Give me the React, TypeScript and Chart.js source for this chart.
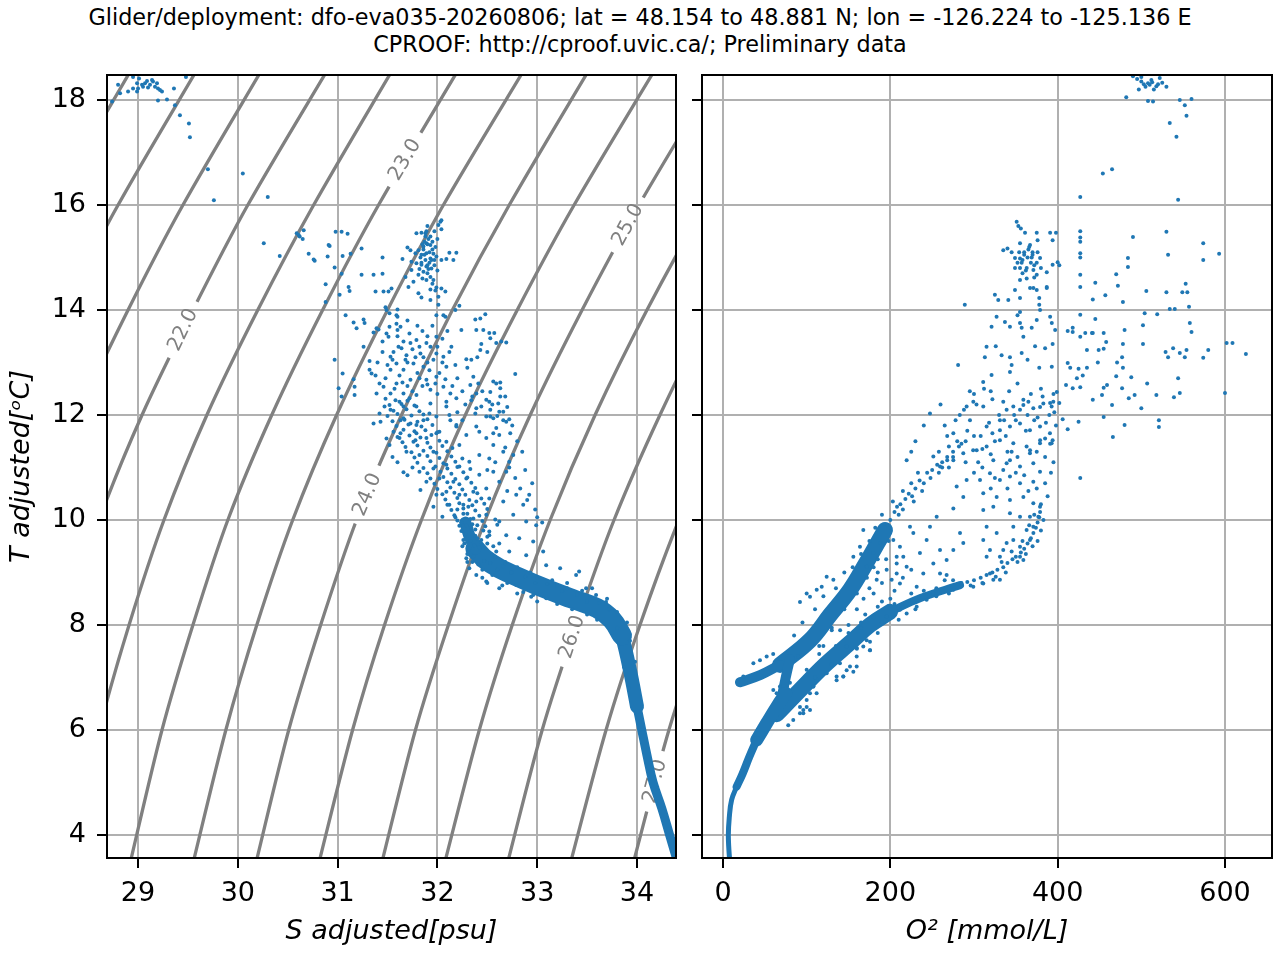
import { useEffect, useRef } from 'react';
import { Chart, registerables } from 'chart.js';

Chart.register(...registerables);

const FONT = 'DejaVu Sans';
const BLUE = '#1f77b4';
const GREY = '#808080';

// tick values
const sTicks = [29, 30, 31, 32, 33, 34];
const tTicks = [4, 6, 8, 10, 12, 14, 16, 18];
const oTicks = [0, 200, 400, 600];

// isopycnals: salinity of each sigma level at these temperatures
const isoTemps = [3.3, 6, 8, 10, 12, 14, 16, 18.8];
const isoLevels = ['20.5', '21.0', '21.5', '22.0', '22.5', '23.0', '23.5', '24.0', '24.5', '25.0', '25.5', '26.0', '26.5', '27.0'];
const isoSalinity = [
  [25.75, 26.07, 26.35, 26.68, 27.1, 27.6, 28.15, 29.0],
  [26.38, 26.7, 26.99, 27.32, 27.75, 28.25, 28.8, 29.66],
  [27.01, 27.34, 27.63, 27.97, 28.4, 28.9, 29.45, 30.31],
  [27.64, 27.97, 28.27, 28.61, 29.04, 29.55, 30.1, 30.97],
  [28.27, 28.61, 28.91, 29.26, 29.69, 30.2, 30.76, 31.62],
  [28.9, 29.24, 29.55, 29.9, 30.34, 30.85, 31.41, 32.28],
  [29.53, 29.88, 30.19, 30.55, 30.99, 31.5, 32.06, 32.94],
  [30.16, 30.51, 30.83, 31.19, 31.64, 32.15, 32.72, 33.59],
  [30.79, 31.15, 31.47, 31.84, 32.28, 32.8, 33.37, 34.25],
  [31.42, 31.78, 32.11, 32.48, 32.93, 33.45, 34.02, 34.9],
  [32.05, 32.42, 32.75, 33.13, 33.58, 34.1, 34.68, 35.56],
  [32.68, 33.05, 33.39, 33.77, 34.23, 34.75, 35.33, 36.22],
  [33.31, 33.69, 34.03, 34.42, 34.88, 35.4, 35.98, 36.87],
  [33.94, 34.32, 34.67, 35.06, 35.52, 36.05, 36.63, 37.53],
];
// temperature where each labelled isopycnal carries its label
const isoLabelTemp: Record<string, number> = {
  '22.0': 13.62,
  '23.0': 16.86,
  '24.0': 10.48,
  '25.0': 15.62,
  '26.0': 7.77,
  '27.0': 5.02,
};

// T-S samples [S, T]
const tsPoints: [number, number][] = [
  [28.8, 18.29], [28.74, 17.97], [28.82, 18.13], [28.9, 18.16], [28.95, 18.44], [29.01, 18.41], [28.99, 18.32], [29.04, 18.29],
  [29.07, 18.32], [29.12, 18.29], [29.15, 18.35], [29.19, 18.32], [29.2, 18.22], [29.22, 18.19], [29.17, 18.25], [29.1, 18.24],
  [29.05, 18.25], [29.0, 18.22], [28.95, 18.22], [28.99, 18.16], [29.14, 18.38], [29.09, 18.36], [29.2, 17.99], [29.29, 18.01],
  [29.36, 18.22], [29.37, 17.9], [29.42, 17.71], [29.51, 17.55], [29.52, 17.29], [29.48, 18.44], [29.24, 18.16],
  [29.7, 16.68], [30.05, 16.6], [29.76, 16.09], [30.3, 16.15],
  [30.59, 15.46], [30.62, 15.4], [30.66, 15.52], [30.61, 15.43], [30.65, 15.35], [30.26, 15.27], [30.42, 15.03], [30.71, 15.07],
  [30.76, 14.96], [30.77, 14.94], [30.98, 15.49], [31.04, 15.49], [31.1, 15.45], [30.92, 15.22], [30.9, 15.02], [31.05, 15.03],
  [31.13, 15.07], [31.24, 15.17], [30.97, 14.81], [31.04, 14.69], [30.88, 14.49], [30.88, 14.15], [31.11, 14.44], [31.12, 14.36],
  [31.02, 14.29], [31.24, 14.67], [31.36, 14.67], [31.45, 14.69], [31.45, 15.0], [31.38, 14.35], [31.46, 14.35], [31.51, 14.35],
  [31.54, 14.41], [31.48, 14.05], [31.08, 13.9], [31.16, 13.76], [31.26, 13.82], [31.27, 13.75], [31.19, 13.65], [31.6, 14.01],
  [31.6, 13.87], [31.52, 13.94], [31.59, 13.74], [31.39, 13.65],
  [30.97, 13.05], [31.05, 12.79], [31.16, 12.68], [31.17, 12.54], [31.01, 12.51], [31.04, 12.35], [31.17, 12.38], [31.26, 13.3],
  [31.36, 13.57], [31.41, 13.63], [31.32, 13.03], [31.32, 12.86], [31.34, 12.79], [30.91, 15.24], [31.65, 14.97], [31.68, 14.63],
  [32.03, 15.68], [32.04, 15.71], [32.01, 15.62], [32.04, 15.54], [31.79, 15.46], [31.84, 15.47], [31.88, 15.46], [31.89, 15.27],
  [31.93, 15.24], [31.86, 15.21], [31.7, 15.19], [31.73, 15.14], [31.78, 15.08], [31.81, 15.14], [31.84, 15.05], [31.89, 15.08],
  [31.93, 14.98], [31.96, 15.07], [31.99, 15.02], [32.04, 14.95], [32.12, 15.09], [32.19, 15.09], [32.09, 14.97], [32.16, 14.95],
  [31.74, 14.92], [31.79, 14.89], [31.84, 14.86], [31.89, 14.83], [31.94, 14.79], [31.74, 14.76], [31.86, 14.73], [31.93, 14.63],
  [31.96, 14.57], [31.81, 14.67], [31.89, 14.57], [31.99, 14.43], [31.98, 14.37], [32.04, 14.41], [31.93, 14.39], [32.08, 14.35],
  [32.01, 14.25], [31.76, 14.54], [31.71, 14.44], [31.81, 14.32], [31.84, 14.24], [31.93, 14.19], [32.01, 14.1], [32.06, 13.9],
  [31.99, 13.9], [32.08, 13.87], [32.22, 14.08], [32.18, 14.0], [32.38, 13.82], [32.43, 13.84], [32.48, 13.92], [32.39, 13.62],
  [32.46, 13.62], [32.52, 13.56], [32.57, 13.56], [32.53, 13.46], [32.59, 13.37], [32.64, 13.4], [32.44, 13.35], [32.43, 13.24],
  [32.69, 13.38], [32.24, 13.62], [32.14, 13.3], [32.34, 13.05], [32.29, 13.06], [32.18, 12.95], [32.78, 12.78], [32.63, 12.62],
  [32.56, 12.64], [32.63, 12.51], [32.53, 12.44], [32.63, 12.35], [32.68, 12.35], [32.61, 12.22], [32.66, 12.06], [32.72, 11.92],
  [32.56, 11.94], [32.53, 12.1], [32.49, 11.97], [32.41, 12.6], [32.33, 12.57], [32.39, 12.41], [32.34, 12.28], [32.44, 12.16],
  [32.38, 12.03],
  [31.91, 15.35], [31.87, 15.3], [31.95, 15.15], [31.98, 15.2], [31.83, 15.0], [31.88, 14.95], [31.92, 14.9], [31.97, 14.85],
  [32.0, 14.75], [31.9, 14.7], [31.85, 14.6], [31.95, 14.5], [31.9, 15.6], [31.97, 15.5], [32.0, 15.35], [31.82, 14.78],
  [31.88, 15.4], [31.9, 15.25], [31.92, 15.1], [31.86, 15.15], [31.94, 14.95], [31.9, 14.85], [31.87, 15.05], [31.95, 15.3],
  [31.84, 14.9], [31.97, 14.95], [31.91, 14.78], [31.85, 15.25], [31.93, 15.4], [31.89, 15.5],
  [31.49, 14.0], [31.59, 13.9], [31.52, 13.68], [31.49, 13.55], [31.51, 13.49], [31.63, 13.68], [31.61, 13.3], [31.64, 13.27],
  [31.73, 13.37], [31.79, 13.43], [31.89, 13.37], [31.99, 13.49], [31.93, 13.3], [31.99, 13.17], [32.06, 13.11], [31.83, 13.17],
  [31.69, 13.14], [31.53, 13.11], [31.59, 12.98], [31.53, 12.86], [31.66, 12.86], [31.76, 12.98], [31.86, 12.92], [31.96, 13.05],
  [32.09, 12.92], [31.99, 12.73], [31.89, 12.67], [31.73, 12.67], [31.59, 12.6], [31.46, 12.54], [31.39, 12.41], [31.53, 12.41],
  [31.66, 12.41], [31.79, 12.38], [31.93, 12.48], [32.06, 12.54], [32.13, 12.41], [32.09, 12.16], [31.93, 12.22], [31.79, 12.16],
  [31.66, 12.16], [31.53, 12.1], [31.42, 12.03], [31.36, 11.84], [31.63, 11.9], [31.73, 11.84], [31.86, 11.9], [31.99, 11.97],
  [32.13, 11.9], [32.19, 11.78], [31.63, 11.65], [31.49, 11.55], [31.99, 11.65], [31.79, 11.65], [31.43, 11.87], [32.36, 12.73],
  [32.59, 12.6], [32.53, 11.97], [32.66, 11.9], [32.39, 11.78], [32.56, 11.65], [32.73, 11.65], [32.49, 12.29],
  [31.45, 13.2], [31.55, 13.05], [31.7, 13.0], [31.8, 12.8], [31.92, 12.85], [32.02, 12.8], [31.62, 12.75], [31.48, 12.7],
  [31.7, 12.55], [31.85, 12.55], [31.98, 12.6], [31.75, 13.25], [31.86, 13.1], [32.0, 13.3], [31.6, 13.5], [31.72, 13.55],
  [31.85, 13.6], [31.95, 13.7], [32.05, 13.45], [32.12, 13.2], [32.2, 12.7], [32.25, 12.45], [32.28, 12.2], [32.2, 12.05],
  [32.25, 11.9],
  [31.42, 12.6], [31.5, 12.95], [31.57, 12.5], [31.65, 12.62], [31.75, 12.45], [31.82, 12.7], [31.9, 12.58], [32.0, 12.4],
  [32.08, 12.68], [32.15, 12.55], [31.68, 13.05], [31.78, 13.1], [31.9, 13.0], [32.05, 13.0], [31.56, 13.2], [31.66, 13.4],
  [31.82, 13.3], [31.9, 13.5], [32.1, 13.6], [31.7, 13.8], [31.8, 13.7], [31.6, 13.62], [31.45, 13.4], [31.4, 13.0],
  [31.38, 12.75], [32.3, 12.9], [32.4, 13.1], [32.5, 13.2], [32.35, 12.35], [32.45, 12.45],
  [31.47, 12.16], [31.62, 12.25], [31.72, 12.32], [31.66, 11.94], [31.79, 11.81], [31.92, 12.03], [32.09, 12.25], [32.19, 12.32],
  [32.12, 12.0], [32.02, 11.68], [31.89, 11.56], [31.76, 11.49], [31.62, 11.56], [31.52, 11.43], [31.69, 11.3], [31.82, 11.24],
  [31.96, 11.3], [32.09, 11.49], [32.22, 11.43], [32.29, 11.62], [32.19, 11.81], [32.39, 12.13], [32.52, 12.25], [32.62, 12.06],
  [32.69, 11.87], [32.59, 11.75], [32.49, 11.56], [32.42, 11.68], [32.56, 11.43], [32.66, 11.3], [32.72, 11.11], [32.76, 11.24],
  [32.52, 11.17], [32.42, 11.24], [32.32, 11.11], [32.22, 11.02], [32.09, 11.05], [31.96, 10.98], [31.82, 10.92], [31.89, 10.73],
  [32.02, 10.79], [32.16, 10.73], [32.29, 10.79], [32.42, 10.86], [32.56, 10.92], [32.69, 10.92], [32.62, 10.73], [32.49, 10.6],
  [32.36, 10.54], [32.22, 10.48], [32.09, 10.54], [31.99, 10.48], [32.12, 10.29], [32.26, 10.29], [32.39, 10.35], [32.52, 10.41],
  [32.66, 10.35], [32.79, 10.48], [32.86, 10.29], [32.92, 10.48], [32.76, 10.1], [32.89, 9.97], [32.99, 9.9], [32.62, 9.97],
  [32.49, 10.1], [32.36, 10.03], [32.52, 9.71], [32.69, 9.71], [32.82, 9.65], [32.96, 9.59], [33.06, 9.4], [32.89, 9.33],
  [32.72, 9.4], [32.59, 9.4], [33.09, 9.14], [33.23, 9.08], [33.39, 8.95], [33.42, 9.02], [32.29, 9.27], [32.32, 9.08],
  [32.39, 8.95], [32.49, 8.83], [32.62, 8.7], [32.79, 8.76], [32.86, 8.63], [32.96, 8.57], [33.09, 8.51], [33.49, 8.7],
  [33.59, 8.57], [33.69, 8.44], [32.94, 8.54],
  [31.66, 10.91], [31.83, 10.57], [31.96, 10.25], [32.05, 10.06], [32.26, 9.62], [31.55, 11.2], [31.6, 11.1], [31.75, 11.0],
  [31.7, 10.85], [33.2, 8.75], [33.3, 8.8], [33.45, 8.65], [33.55, 8.7], [33.7, 8.5], [33.87, 7.2], [33.98, 7.3], [33.92, 6.8],
  [31.48, 12.31], [31.58, 12.28], [31.7, 12.27], [31.52, 12.19], [31.64, 12.21], [31.77, 12.18], [31.56, 12.08], [31.69, 12.11],
  [31.82, 12.07], [31.5, 11.98], [31.6, 12.02], [31.74, 11.99], [31.86, 12.01], [31.55, 11.88], [31.67, 11.91], [31.8, 11.87],
  [31.9, 11.92], [31.59, 11.79], [31.71, 11.82], [31.84, 11.78], [31.95, 11.81], [31.56, 11.68], [31.66, 11.72], [31.77, 11.69],
  [31.88, 11.71], [32.0, 11.67], [31.6, 11.58], [31.72, 11.61], [31.83, 11.57], [31.94, 11.62], [31.65, 11.48], [31.78, 11.52],
  [31.9, 11.47], [32.02, 11.51], [31.68, 11.39], [31.8, 11.42], [31.93, 11.38], [32.05, 11.41], [32.15, 11.37], [31.74, 11.29],
  [31.86, 11.32], [31.99, 11.28], [32.1, 11.31], [31.77, 11.19], [31.9, 11.22], [32.02, 11.18], [32.14, 11.21], [32.25, 11.17],
  [31.8, 11.09], [31.93, 11.12], [32.06, 11.08], [32.18, 11.11], [31.86, 10.99], [31.98, 11.02], [32.1, 10.98], [32.2, 11.01],
  [32.33, 10.97], [31.9, 10.89], [32.03, 10.92], [32.14, 10.88], [32.26, 10.91], [31.93, 10.79], [32.06, 10.82], [32.18, 10.78],
  [32.3, 10.81], [31.97, 10.69], [32.1, 10.72], [32.22, 10.68], [32.34, 10.71], [32.0, 10.59], [32.13, 10.62], [32.25, 10.58],
  [32.38, 10.61], [32.05, 10.49], [32.17, 10.52], [32.28, 10.48], [32.4, 10.51], [32.08, 10.39], [32.2, 10.42], [32.32, 10.38],
  [32.44, 10.41], [32.1, 10.29], [32.22, 10.32], [32.35, 10.28], [32.47, 10.31], [32.14, 10.19], [32.26, 10.22], [32.38, 10.18],
  [32.5, 10.21], [32.17, 10.09], [32.3, 10.12], [32.42, 10.08], [32.2, 9.99], [32.33, 10.02], [32.45, 9.98], [32.58, 10.01],
  [32.22, 9.89], [32.35, 9.92], [32.48, 9.88], [32.6, 9.91], [32.24, 9.79], [32.38, 9.82], [32.52, 9.78],
  [32.55, 12.2], [32.7, 12.15], [32.6, 11.98], [32.75, 11.8], [32.62, 11.62], [32.8, 11.5], [32.68, 11.38], [32.85, 11.3],
  [32.72, 11.0], [32.88, 10.95], [32.78, 10.8], [32.95, 10.7], [32.83, 10.6], [32.7, 10.55], [32.9, 10.38], [32.98, 10.2],
  [33.0, 10.05], [33.05, 9.95], [32.58, 11.1], [32.5, 10.95],
  [32.25, 9.5], [32.3, 9.35], [32.35, 9.2], [32.45, 9.05], [32.55, 8.95], [32.7, 8.8], [32.4, 9.65], [32.5, 9.55],
  [32.58, 9.3], [32.68, 9.2], [32.8, 9.1], [32.93, 9.0], [33.0, 8.9], [33.15, 8.85], [33.3, 8.7], [33.2, 8.4],
  [33.35, 8.3], [33.5, 8.2], [33.6, 8.1], [33.0, 8.45], [32.8, 8.6], [32.65, 8.75], [32.5, 8.8], [32.45, 8.9],
  [32.2, 10.2], [32.26, 10.12], [32.31, 10.25], [32.18, 10.05], [32.24, 9.95], [32.29, 9.9], [32.34, 9.85], [32.4, 9.9],
  [32.46, 9.8], [32.28, 9.72], [32.33, 9.6], [32.38, 9.7], [32.44, 9.62], [32.5, 9.68], [32.27, 9.55], [32.32, 9.45],
  [32.37, 9.52], [32.42, 9.48], [32.56, 9.5], [32.62, 9.55], [32.3, 9.2], [32.36, 9.3], [32.41, 9.15], [32.47, 9.22],
  [32.53, 9.18], [32.6, 9.05], [32.66, 9.12], [32.74, 9.0], [32.88, 8.92], [32.98, 8.8], [33.1, 8.78], [33.25, 8.65],
  [33.4, 8.58], [33.5, 8.45], [33.62, 8.42], [33.72, 8.3], [33.8, 8.25], [33.9, 8.05], [33.93, 7.7], [33.8, 7.95],
];

// dense parts of the T-S curve [S, T]
const tsBandStart: [number, number][] = [[32.28, 9.95], [32.32, 9.7], [32.38, 9.45]];
const tsBandUpper: [number, number][] = [[32.38, 9.45], [32.48, 9.25], [32.62, 9.08], [32.85, 8.88], [33.1, 8.68], [33.35, 8.5], [33.6, 8.32], [33.75, 8.1], [33.85, 7.8]];
const tsBandMid: [number, number][] = [[33.85, 7.8], [33.9, 7.4], [33.95, 6.95], [34.0, 6.45]];
const tsBandLow: [number, number][] = [[34.0, 6.45], [34.05, 5.98], [34.1, 5.52], [34.16, 5.01], [34.25, 4.5], [34.33, 3.98], [34.42, 3.4]];

// oxygen samples [O2, T]
const oxPoints: [number, number][] = [
  [510, 18.29], [500, 18.35], [520, 18.3], [515, 18.2], [505, 18.25], [525, 18.33], [495, 18.4], [530, 18.25], [512, 18.38],
  [490, 18.45], [482, 18.05], [508, 17.98], [514, 17.97], [534, 17.56], [542, 17.3], [554, 17.7], [546, 18.0], [560, 18.02],
  [552, 17.9], [500, 18.44], [497, 18.2], [522, 18.42], [508, 18.32], [518, 18.26], [513, 18.34], [503, 18.3],
  [454, 16.6], [465, 16.68], [427, 16.15], [544, 16.1],
  [427, 15.5], [427, 15.38], [427, 15.3], [427, 15.08], [427, 15.0], [427, 14.67], [427, 14.44],
  [490, 15.39], [530, 15.49], [532, 15.05], [574, 15.27], [574, 14.95], [593, 15.07], [484, 14.99], [484, 14.82], [470, 14.68],
  [445, 14.52], [472, 14.46], [442, 14.2], [457, 14.28], [478, 14.15], [506, 14.36], [530, 14.34], [553, 14.5], [549, 14.34],
  [555, 14.34], [534, 14.02], [540, 14.02], [557, 14.06], [504, 13.94], [519, 13.92], [558, 13.75], [560, 13.58], [502, 13.71],
  [502, 13.35], [480, 13.62], [478, 13.35], [445, 13.83], [442, 13.56], [455, 13.56], [435, 13.24], [449, 13.24], [455, 13.26],
  [458, 13.39], [427, 13.49], [418, 13.58], [412, 13.6], [427, 13.91], [418, 13.66], [433, 13.56], [441, 13.56], [602, 13.37],
  [609, 13.37], [625, 13.16], [580, 13.24], [574, 13.09], [600, 12.42], [546, 13.18], [538, 13.27], [554, 13.24], [552, 13.1],
  [544, 12.7], [546, 12.42], [539, 12.34], [532, 13.1], [529, 13.2], [507, 12.6], [518, 12.38], [492, 12.38], [485, 12.32],
  [500, 12.13], [477, 12.51], [478, 12.9], [477, 13.1], [471, 13.0], [488, 12.72], [470, 12.74], [459, 12.57], [455, 12.52],
  [453, 12.38], [442, 12.29], [465, 12.19], [455, 11.96], [480, 11.81], [466, 11.58], [521, 11.9], [521, 11.77], [435, 12.9],
  [448, 13.0], [423, 12.7], [427, 12.53], [430, 12.75], [418, 12.51], [410, 12.57], [412, 12.99], [415, 12.9], [425, 12.88],
  [399, 12.44], [402, 12.23], [406, 11.92], [412, 11.73], [425, 11.87], [427, 10.8],
  [268, 11.14], [299, 11.33], [331, 11.71], [339, 12.1], [359, 12.29], [379, 12.15], [391, 12.23], [281, 12.95], [315, 13.3],
  [326, 13.31], [313, 13.1], [321, 12.76], [311, 12.63], [333, 13.14], [343, 13.1], [357, 13.18], [343, 12.82], [345, 12.95],
  [364, 13.05], [378, 12.9], [393, 12.92], [373, 13.31], [385, 13.27], [394, 13.35], [357, 13.66], [359, 13.49], [355, 13.75],
  [369, 13.66], [375, 13.81], [393, 13.75], [397, 13.62], [343, 13.68], [337, 13.77], [321, 13.68], [327, 13.87], [355, 13.96],
  [352, 13.9], [379, 14.0], [378, 14.1], [391, 13.87], [289, 14.1], [325, 14.29], [341, 14.19], [355, 14.23], [378, 14.23],
  [387, 14.42], [371, 14.42], [329, 14.19],
  [351, 15.68], [353, 15.6], [356, 15.55], [361, 15.47], [375, 15.47], [391, 15.47], [398, 15.47], [394, 15.33], [355, 15.27],
  [367, 15.24], [376, 15.33], [335, 15.14], [340, 15.17], [345, 15.1], [349, 14.99], [355, 14.98], [357, 14.9], [369, 15.0],
  [375, 14.9], [379, 14.99], [363, 14.8], [371, 14.76], [375, 14.67], [349, 14.8], [387, 14.72], [355, 14.57], [367, 14.42],
  [375, 14.38], [387, 14.44], [349, 14.38], [400, 14.91], [402, 14.85], [394, 14.86], [355, 14.8], [363, 14.6], [372, 14.62],
  [360, 15.05], [365, 15.15], [370, 15.1], [358, 14.7], [380, 14.8],
  [360, 15.1], [364, 15.0], [368, 14.9], [358, 14.95], [366, 15.2], [372, 14.85], [362, 14.75], [354, 15.1], [370, 15.05],
  [376, 15.1], [352, 14.9],
  [262, 11.0], [275, 11.2], [285, 11.45], [290, 11.1], [300, 11.6], [310, 11.35], [318, 11.85], [325, 11.5], [330, 12.0],
  [338, 11.6], [345, 11.3], [350, 11.9], [355, 12.1], [362, 11.7], [368, 12.4], [372, 11.9], [380, 12.5], [385, 11.55],
  [390, 12.0], [398, 11.8], [303, 12.2], [295, 12.45], [278, 11.9], [268, 11.6], [288, 12.1], [312, 12.5], [322, 12.3],
  [342, 12.45], [352, 12.6], [365, 12.25], [382, 12.35], [395, 12.4], [394, 11.52], [391, 11.45], [379, 11.52], [367, 11.33],
  [343, 11.14],
  [247.4, 12.03], [219.5, 11.14], [251.4, 11.21], [275.3, 11.65], [291.2, 12.16], [299.2, 12.25], [311.1, 12.16], [335, 12.25],
  [347, 12.16], [359, 12.19], [370.9, 12.13], [382.9, 12.22], [392.8, 12.16], [394.8, 12.25], [295.2, 11.9], [315.1, 11.78],
  [331, 11.9], [343, 11.78], [355, 11.84], [366.9, 11.71], [378.9, 11.78], [390.8, 11.65], [392.8, 11.46], [378.9, 11.46],
  [362.9, 11.4], [347, 11.46], [331, 11.52], [315.1, 11.4], [303.2, 11.33], [287.2, 11.27], [275.3, 11.14], [259.4, 11.02],
  [323.1, 11.14], [339, 11.08], [355, 11.02], [370.9, 11.08], [366.9, 11.27], [378.9, 10.92], [370.9, 10.73], [355, 10.7],
  [343, 10.83], [331, 10.76], [319.1, 10.89], [307.2, 10.76], [291.2, 10.76], [279.3, 10.64], [287.2, 10.44], [311.1, 10.51],
  [327.1, 10.44], [343, 10.38], [359, 10.44], [370.9, 10.32], [378.9, 10.25], [376.9, 10.06], [366.9, 10.06], [355, 10.06],
  [343, 10.13], [323.1, 10.25], [311.1, 10.19], [275.3, 10.22], [255.4, 10.06], [247.4, 9.87], [227.5, 9.75], [235.4, 9.37],
  [211.5, 9.49], [215.5, 9.3], [243.4, 9.62], [259.4, 9.43], [267.3, 9.24], [275.3, 9.43], [283.3, 9.75], [287.2, 9.56],
  [311.1, 9.62], [315.1, 9.87], [327.1, 9.75], [339, 9.56], [347, 9.62], [355, 9.49], [366.9, 9.62], [370.9, 9.87],
  [362.9, 9.81], [347, 9.87], [319.1, 9.43], [315.1, 9.3], [331, 9.3], [335, 9.43], [355, 9.3], [359, 9.24], [319.1, 8.98],
  [323.1, 8.86], [331, 8.86], [311.1, 8.79], [259.4, 8.98], [251.4, 9.17], [239.4, 8.98], [267.3, 8.95], [219.5, 9.11],
  [207.6, 9.3], [207.6, 8.98], [203.6, 9.62], [207.6, 9.17], [223.5, 9.87], [171.7, 9.11], [179.7, 9.37], [187.7, 9.56],
  [167.7, 9.81], [163.7, 9.49], [195.6, 9.05], [201.6, 8.86], [183.7, 8.86], [211.5, 8.79], [231.5, 8.73], [251.4, 8.6],
  [275.3, 8.67], [299.2, 8.73],
  [147.8, 7.59], [159.8, 7.56], [171.7, 7.71], [175.7, 7.52], [139.8, 7.27], [151.8, 7.21], [123.9, 7.08], [135.8, 7.02],
  [143.8, 7.02], [108, 6.83], [111.9, 6.7], [100, 6.57], [92, 6.44], [104, 6.38], [96, 6.32], [219.5, 8.22], [231.5, 8.35],
  [195.6, 8.16], [211.5, 8.29], [243.4, 8.48],
  [92, 8.44], [100, 8.6], [104, 8.54], [112, 8.67], [118, 8.73], [123.9, 8.92], [131.9, 8.86], [44.2, 7.33], [52.2, 7.4],
  [36.3, 7.27], [24.3, 7.02], [68.1, 6.83], [64.1, 6.7], [155.8, 9.3],
  [147.8, 7.14], [159.8, 7.21], [143.8, 7.02], [135.8, 6.95], [155.8, 7.11], [112, 6.95], [104, 6.7], [100, 6.44], [92, 6.32],
  [84, 6.19], [78, 6.09], [96, 6.38], [108, 6.83], [60.1, 6.76], [167.7, 7.59], [175.7, 7.68], [175.7, 7.52], [159.8, 7.4],
  [160, 8.3], [168, 8.5], [180, 8.6], [190, 8.8], [175, 8.7], [150, 8.0], [140, 7.9], [185, 9.0],
  [200, 10.0], [205, 10.15], [210, 10.1], [212, 10.3], [218, 10.4], [222, 10.5], [226, 10.45], [230, 10.6], [235, 10.75],
  [240, 10.7], [244, 10.9], [250, 10.95], [256, 11.05], [262, 11.1], [268, 11.2], [275, 11.3], [282, 11.4], [290, 11.5],
  [208, 10.25], [215, 10.2], [228, 10.35], [238, 10.55], [248, 10.8], [258, 10.9], [270, 11.0], [196, 9.9], [203, 10.35],
  [215, 10.55], [225, 10.7], [233, 10.9],
  [285, 8.8], [292, 8.82], [300, 8.85], [308, 8.9], [315, 8.95], [322, 9.0], [328, 9.05], [335, 9.1], [340, 9.18],
  [346, 9.25], [350, 9.3], [356, 9.38], [360, 9.45], [364, 9.55], [368, 9.65], [371, 9.75], [374, 9.85], [376, 9.95],
  [378, 10.05], [379, 10.15], [380, 10.3], [296, 8.75], [310, 8.8], [326, 8.92], [338, 9.0], [352, 9.2], [362, 9.35],
  [370, 9.5], [376, 9.6], [380, 9.8], [383, 10.0], [358, 9.6], [366, 9.9], [372, 10.1], [345, 9.4], [333, 9.2],
  [300, 10.9], [305, 11.1], [310, 11.0], [320, 10.6], [325, 10.8], [335, 10.95], [340, 10.6], [350, 10.9], [360, 10.85],
  [365, 10.55], [375, 10.6], [385, 10.7], [388, 10.45], [392, 10.9], [395, 11.1], [385, 11.2], [375, 11.3], [352, 11.2],
  [340, 11.3], [320, 11.25], [308, 11.6], [322, 11.65], [336, 11.9], [348, 12.0], [364, 12.0], [376, 11.95], [386, 11.85],
  [396, 12.05], [280, 11.5], [292, 11.7], [270, 11.4], [258, 11.3], [265, 11.8], [283, 12.0], [300, 12.4], [320, 12.45],
  [260, 12.2], [240, 11.8], [230, 11.5], [225, 11.3],
  [120, 7.6], [130, 7.9], [165, 8.05], [185, 8.35], [200, 8.5], [205, 8.65], [190, 8.45], [170, 8.2], [215, 8.9],
  [225, 9.05], [195, 9.25], [180, 9.1],
  [60, 7.45], [85, 7.8], [95, 8.05], [110, 8.3], [120, 8.55], [135, 8.7], [145, 9.0], [155, 9.1], [165, 9.35], [175, 9.6],
  [182, 9.85], [190, 10.1], [90, 7.4], [115, 7.6], [130, 7.95], [145, 8.3], [160, 8.6], [172, 8.9], [185, 9.25], [198, 9.6],
  [80, 6.9], [100, 7.15], [115, 7.45], [135, 7.6], [150, 7.85], [165, 7.95], [180, 8.15], [190, 8.05], [205, 8.4],
  [215, 8.35], [225, 8.6], [240, 8.65], [255, 8.7], [265, 8.85], [275, 8.85], [110, 7.0], [130, 7.25], [160, 7.55],
  [185, 7.85], [210, 8.1], [230, 8.3], [255, 8.55], [270, 8.6],
];

// dense parts of the O2-T curve [O2, T]
const oxTailLow: [number, number][] = [[8.4, 3.4], [6.4, 3.97], [7.6, 4.35], [10.3, 4.67], [16.3, 4.92]];
const oxTailMid: [number, number][] = [[16.3, 4.92], [23.5, 5.17], [31.5, 5.49], [40.2, 5.81]];
const oxTailTop: [number, number][] = [[40.2, 5.81], [52.2, 6.13], [64.1, 6.44], [75, 6.7]];
const oxNeck: [number, number][] = [[70, 6.6], [75, 7.0], [80, 7.35]];
const oxArm: [number, number][] = [[20.3, 6.91], [45, 7.05], [68.1, 7.24]];
const oxUpperBand: [number, number][] = [[68.1, 7.24], [104, 7.71], [127.9, 8.19], [151.8, 8.67], [169.7, 9.14], [193.6, 9.81]];
const oxLowerBand: [number, number][] = [[64.1, 6.3], [92, 6.76], [121.9, 7.24], [151.8, 7.66], [175.7, 8.0], [199.6, 8.25]];
const oxLowerBandMid: [number, number][] = [[199.6, 8.25], [235.4, 8.51], [283.3, 8.76]];

const toXY = (pts: [number, number][]) => pts.map(([x, y]) => ({ x, y }));

const scatterSet = (pts: [number, number][]) => ({
  type: 'scatter' as const,
  data: toXY(pts),
  pointRadius: 2,
  pointBorderWidth: 0,
  pointBackgroundColor: BLUE,
  clip: 0,
  order: 0,
});

const bandSet = (pts: [number, number][], width: number) => ({
  type: 'line' as const,
  data: toXY(pts),
  borderColor: BLUE,
  borderWidth: width,
  borderCapStyle: 'round' as const,
  borderJoinStyle: 'round' as const,
  pointRadius: 0,
  tension: 0.4,
  fill: false,
  clip: 0,
  order: 1,
});

function salinityAt(level: string, t: number) {
  const row = isoSalinity[isoLevels.indexOf(level)];
  for (let i = 0; i < isoTemps.length - 1; i++) {
    if (t >= isoTemps[i] && t <= isoTemps[i + 1]) {
      const f = (t - isoTemps[i]) / (isoTemps[i + 1] - isoTemps[i]);
      return row[i] + f * (row[i + 1] - row[i]);
    }
  }
  return row[0];
}

function labelGeometry(chart: any, level: string) {
  const t = isoLabelTemp[level];
  const xs = chart.scales.x;
  const ys = chart.scales.y;
  const px = xs.getPixelForValue(salinityAt(level, t));
  const py = ys.getPixelForValue(t);
  const ax = xs.getPixelForValue(salinityAt(level, t - 0.4));
  const ay = ys.getPixelForValue(t - 0.4);
  const bx = xs.getPixelForValue(salinityAt(level, t + 0.4));
  const by = ys.getPixelForValue(t + 0.4);
  chart.ctx.font = `20px "${FONT}"`;
  const w = chart.ctx.measureText(level).width;
  return { px, py, angle: Math.atan2(by - ay, bx - ax), w };
}

// breaks each labelled isopycnal around its label and writes the label
const contourLabelPlugin = {
  id: 'contourLabels',
  beforeDatasetDraw(chart: any, args: any) {
    const level = chart.data.datasets[args.index].label;
    if (!(level in isoLabelTemp)) return;
    const { px, py, angle, w } = labelGeometry(chart, level);
    const ctx = chart.ctx;
    ctx.save();
    ctx.beginPath();
    ctx.rect(0, 0, chart.width, chart.height);
    ctx.save();
    ctx.translate(px, py);
    ctx.rotate(angle);
    ctx.rect(-w / 2 - 9, -12, w + 18, 24);
    ctx.restore();
    ctx.clip('evenodd');
  },
  afterDatasetDraw(chart: any, args: any) {
    const level = chart.data.datasets[args.index].label;
    if (!(level in isoLabelTemp)) return;
    const ctx = chart.ctx;
    ctx.restore();
    const { px, py, angle } = labelGeometry(chart, level);
    ctx.save();
    ctx.translate(px, py);
    ctx.rotate(angle);
    ctx.fillStyle = GREY;
    ctx.font = `20px "${FONT}"`;
    ctx.textAlign = 'center';
    ctx.textBaseline = 'middle';
    ctx.fillText(level, 0, 0);
    ctx.restore();
  },
};

const framePlugin = {
  id: 'frame',
  afterDatasetsDraw(chart: any) {
    const { ctx, chartArea: a } = chart;
    ctx.save();
    ctx.strokeStyle = '#000';
    ctx.lineWidth = 2;
    ctx.strokeRect(a.left, a.top, a.right - a.left, a.bottom - a.top);
    ctx.restore();
  },
};

interface PanelOpts {
  datasets: any[];
  xMin: number;
  xMax: number;
  xTicks: number[];
  xTitle: string;
  yTitle?: string;
  yWidth: number;
  padRight: number;
  plugins: any[];
}

function panelConfig(o: PanelOpts): any {
  const tickFont = { family: FONT, size: 27 };
  const titleFont = { family: FONT, size: 27, style: 'italic' as const };
  const grid = { color: '#b0b0b0', lineWidth: 2, tickColor: '#000', tickLength: 10, tickWidth: 2 };
  return {
    type: 'scatter',
    data: { datasets: o.datasets },
    plugins: o.plugins,
    options: {
      animation: false,
      responsive: false,
      events: [],
      layout: { padding: { top: 15, right: o.padRight, left: 0, bottom: 0 } },
      plugins: { legend: { display: false }, tooltip: { enabled: false } },
      scales: {
        x: {
          type: 'linear',
          min: o.xMin,
          max: o.xMax,
          afterBuildTicks: (axis: any) => {
            axis.ticks = o.xTicks.map((value) => ({ value }));
          },
          afterFit: (axis: any) => {
            axis.height = 102;
            axis.paddingLeft = 0;
            axis.paddingRight = 0;
          },
          grid,
          border: { display: false },
          ticks: { color: '#000', font: tickFont, padding: 10, maxRotation: 0, autoSkip: false, callback: (v: number) => String(v) },
          title: { display: true, text: o.xTitle, color: '#000', font: titleFont, padding: { top: 0, bottom: 12 } },
        },
        y: {
          type: 'linear',
          min: 3.562,
          max: 18.476,
          afterBuildTicks: (axis: any) => {
            axis.ticks = tTicks.map((value) => ({ value }));
          },
          afterFit: (axis: any) => {
            axis.width = o.yWidth;
            axis.paddingTop = 0;
            axis.paddingBottom = 0;
          },
          grid,
          border: { display: false },
          ticks: { display: !!o.yTitle, color: '#000', font: tickFont, padding: 11, autoSkip: false, callback: (v: number) => String(v) },
          title: { display: !!o.yTitle, text: o.yTitle || '', color: '#000', font: titleFont, padding: { top: 6, bottom: 0 } },
        },
      },
    },
  };
}

export default function App() {
  const tsRef = useRef<HTMLCanvasElement | null>(null);
  const oxRef = useRef<HTMLCanvasElement | null>(null);

  useEffect(() => {
    if (!tsRef.current || !oxRef.current) return;

    const isopycnals = isoLevels.map((level, i) => ({
      type: 'line' as const,
      label: level,
      data: isoTemps.map((t, j) => ({ x: isoSalinity[i][j], y: t })),
      borderColor: GREY,
      borderWidth: 3.3,
      pointRadius: 0,
      tension: 0.3,
      fill: false,
      clip: 0,
      order: 2,
    }));

    const tsChart = new Chart(
      tsRef.current,
      panelConfig({
        datasets: [
          scatterSet(tsPoints),
          bandSet(tsBandStart, 12),
          bandSet(tsBandUpper, 20),
          bandSet(tsBandMid, 14),
          bandSet(tsBandLow, 9),
          ...isopycnals,
        ],
        xMin: 28.689,
        xMax: 34.391,
        xTicks: sTicks,
        xTitle: 'S adjusted[psu]',
        yTitle: 'T adjusted[ᵒC]',
        yWidth: 107,
        padRight: 14,
        plugins: [contourLabelPlugin, framePlugin],
      })
    );

    const oxChart = new Chart(
      oxRef.current,
      panelConfig({
        datasets: [
          scatterSet(oxPoints),
          bandSet(oxTailLow, 5),
          bandSet(oxTailMid, 8),
          bandSet(oxTailTop, 13),
          bandSet(oxNeck, 10),
          bandSet(oxArm, 10),
          bandSet(oxUpperBand, 16),
          bandSet(oxLowerBand, 16),
          bandSet(oxLowerBandMid, 8),
        ],
        xMin: -25.1,
        xMax: 656.2,
        xTicks: oTicks,
        xTitle: 'O² [mmol/L]',
        yWidth: 22,
        padRight: 8,
        plugins: [framePlugin],
      })
    );

    return () => {
      tsChart.destroy();
      oxChart.destroy();
    };
  }, []);

  return (
    <div style={{ position: 'absolute', left: 0, top: 0, width: 1280, height: 960, background: '#fff', fontFamily: FONT, overflow: 'hidden' }}>
      <div style={{ position: 'absolute', left: 0, top: 4, width: 1280, textAlign: 'center', fontSize: 22.3, lineHeight: '27px', color: '#000' }}>
        <div>Glider/deployment: dfo-eva035-20260806; lat = 48.154 to 48.881 N; lon = -126.224 to -125.136 E</div>
        <div>CPROOF: http://cproof.uvic.ca/; Preliminary data</div>
      </div>
      <div style={{ position: 'absolute', left: 0, top: 60, width: 690, height: 900 }}>
        <canvas ref={tsRef} width={690} height={900} style={{ width: 690, height: 900 }} />
      </div>
      <div style={{ position: 'absolute', left: 680, top: 60, width: 600, height: 900 }}>
        <canvas ref={oxRef} width={600} height={900} style={{ width: 600, height: 900 }} />
      </div>
    </div>
  );
}
